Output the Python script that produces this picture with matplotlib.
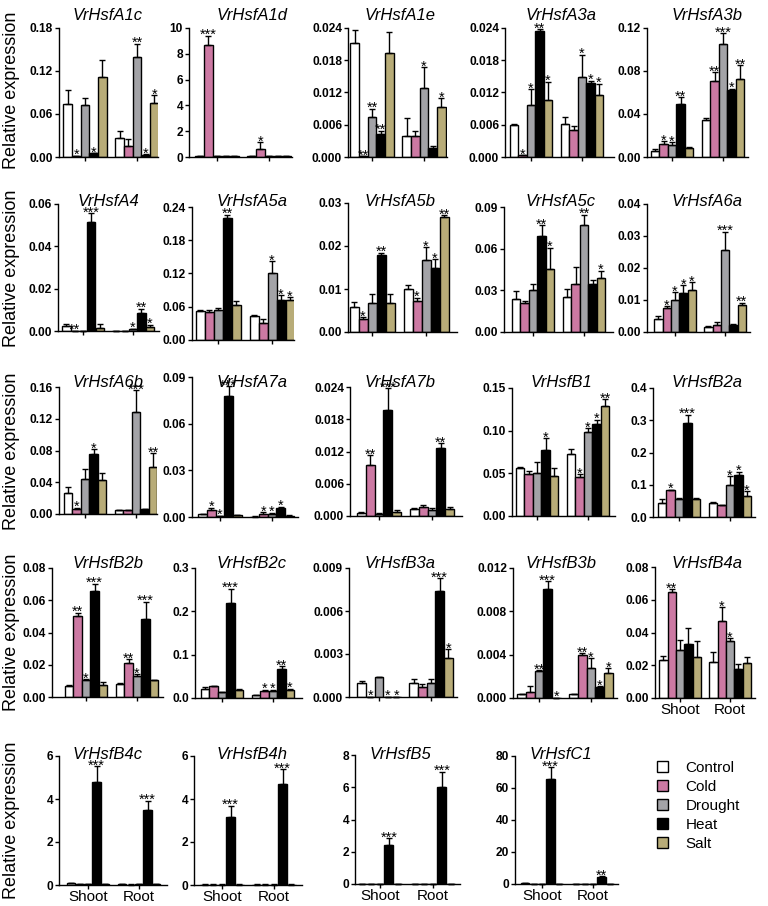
import matplotlib
matplotlib.use('Agg')
import matplotlib.pyplot as plt
from matplotlib.patches import Patch
import numpy as np

plt.rcParams['font.family'] = ['Liberation Sans', 'DejaVu Sans']

# ---------------- data ----------------
conditions = ['Control', 'Cold', 'Drought', 'Heat', 'Salt']
tissues = ['Shoot', 'Root']
colors = ['#FFFFFF', '#CC79A3', '#A3A3A7', '#000000', '#B8AC78']

genes = ['VrHsfA1c', 'VrHsfA1d', 'VrHsfA1e', 'VrHsfA3a', 'VrHsfA3b',
         'VrHsfA4', 'VrHsfA5a', 'VrHsfA5b', 'VrHsfA5c', 'VrHsfA6a',
         'VrHsfA6b', 'VrHsfA7a', 'VrHsfA7b', 'VrHsfB1', 'VrHsfB2a',
         'VrHsfB2b', 'VrHsfB2c', 'VrHsfB3a', 'VrHsfB3b', 'VrHsfB4a',
         'VrHsfB4c', 'VrHsfB4h', 'VrHsfB5', 'VrHsfC1']

yticklabels = [
    ['0.00', '0.06', '0.12', '0.18'],
    ['0', '2', '4', '6', '8', '10'],
    ['0.000', '0.006', '0.012', '0.018', '0.024'],
    ['0.000', '0.006', '0.012', '0.018', '0.024'],
    ['0.00', '0.04', '0.08', '0.12'],
    ['0.00', '0.02', '0.04', '0.06'],
    ['0.00', '0.06', '0.12', '0.18', '0.24'],
    ['0.00', '0.01', '0.02', '0.03'],
    ['0.00', '0.03', '0.06', '0.09'],
    ['0.00', '0.01', '0.02', '0.03', '0.04'],
    ['0.00', '0.04', '0.08', '0.12', '0.16'],
    ['0.00', '0.03', '0.06', '0.09'],
    ['0.000', '0.006', '0.012', '0.018', '0.024'],
    ['0.00', '0.05', '0.10', '0.15'],
    ['0.0', '0.1', '0.2', '0.3', '0.4'],
    ['0.00', '0.02', '0.04', '0.06', '0.08'],
    ['0.0', '0.1', '0.2', '0.3'],
    ['0.000', '0.003', '0.006', '0.009'],
    ['0.000', '0.004', '0.008', '0.012'],
    ['0.00', '0.02', '0.04', '0.06', '0.08'],
    ['0', '2', '4', '6'],
    ['0', '2', '4', '6'],
    ['0', '2', '4', '6', '8'],
    ['0', '20', '40', '60', '80'],
]

# order in each list: Control, Cold, Drought, Heat, Salt
shoot_mean = [
    [0.074, 0.001, 0.072, 0.005, 0.112],
    [0.05, 8.65, 0.06, 0.05, 0.05],
    [0.0212, 0.0001, 0.0074, 0.0042, 0.0193],
    [0.0059, 0.0003, 0.0096, 0.0235, 0.0106],
    [0.0056, 0.0125, 0.011, 0.0495, 0.0088],
    [0.0025, 0.0002, 0.0002, 0.0513, 0.0016],
    [0.052, 0.05, 0.055, 0.22, 0.064],
    [0.0057, 0.0031, 0.0067, 0.0178, 0.0067],
    [0.0241, 0.021, 0.0302, 0.0688, 0.0454],
    [0.004, 0.0076, 0.0101, 0.0122, 0.013],
    [0.0261, 0.0067, 0.0442, 0.0754, 0.043],
    [0.0017, 0.0043, 0.0006, 0.078, 0.0013],
    [0.0006, 0.0095, 0.0004, 0.0198, 0.0008],
    [0.0565, 0.0487, 0.0499, 0.0774, 0.0467],
    [0.042, 0.083, 0.057, 0.291, 0.057],
    [0.0069, 0.0505, 0.0104, 0.0659, 0.0073],
    [0.0208, 0.0269, 0.0138, 0.219, 0.0192],
    [0.00097, 0.00002, 0.00139, 0.00002, 0.00002],
    [0.00037, 0.00055, 0.00252, 0.0101, 0.00002],
    [0.0231, 0.0649, 0.0293, 0.0327, 0.0248],
    [0.08, 0.03, 0.03, 4.77, 0.05],
    [0.02, 0.02, 0.02, 3.15, 0.02],
    [0.01, 0.01, 0.01, 2.4, 0.01],
    [0.8, 0.2, 0.2, 65.9, 0.2],
]
shoot_err = [
    [0.019, 0.0005, 0.01, 0.0005, 0.024],
    [0.01, 0.75, 0.01, 0.01, 0.01],
    [0.0025, 0.0, 0.0016, 0.0007, 0.004],
    [0.0002, 0.0, 0.003, 0.0003, 0.0034],
    [0.0016, 0.002, 0.003, 0.006, 0.0006],
    [0.0008, 0.0, 0.0, 0.0044, 0.0016],
    [0.002, 0.005, 0.002, 0.006, 0.006],
    [0.0013, 0.0004, 0.0022, 0.0006, 0.0022],
    [0.0053, 0.0012, 0.0043, 0.008, 0.0154],
    [0.0009, 0.0004, 0.0024, 0.0024, 0.0025],
    [0.0084, 0.0013, 0.0126, 0.0063, 0.0084],
    [0.0005, 0.0017, 0.0002, 0.006, 0.0002],
    [0.0002, 0.0018, 0.0001, 0.004, 0.0003],
    [0.0012, 0.0043, 0.0137, 0.0137, 0.009],
    [0.013, 0.002, 0.003, 0.026, 0.002],
    [0.0005, 0.0019, 0.0006, 0.0043, 0.002],
    [0.0046, 0.001, 0.0005, 0.033, 0.0005],
    [0.00017, 0.0, 0.00002, 0.0, 0.0],
    [0.00003, 0.0006, 0.00002, 0.0007, 0.0],
    [0.0025, 0.0016, 0.0061, 0.01, 0.01],
    [0.02, 0.01, 0.01, 0.75, 0.01],
    [0.01, 0.01, 0.01, 0.53, 0.01],
    [0.005, 0.005, 0.005, 0.45, 0.005],
    [0.1, 0.05, 0.05, 7.2, 0.05],
]
shoot_sig = [
    ['', '*', '', '*', ''],
    ['', '***', '', '', ''],
    ['', '**', '**', '**', ''],
    ['', '*', '*', '**', '*'],
    ['', '*', '*', '**', ''],
    ['', '**', '', '***', ''],
    ['', '', '', '**', ''],
    ['', '*', '', '**', ''],
    ['', '', '', '**', '*'],
    ['', '*', '*', '*', '*'],
    ['', '*', '', '*', ''],
    ['', '*', '*', '***', ''],
    ['', '**', '', '***', ''],
    ['', '', '', '*', ''],
    ['', '*', '', '***', ''],
    ['', '**', '*', '***', ''],
    ['', '', '', '***', ''],
    ['', '*', '', '*', '*'],
    ['', '', '**', '***', '*'],
    ['', '**', '', '', ''],
    ['', '', '', '***', ''],
    ['', '', '', '***', ''],
    ['', '', '', '***', ''],
    ['', '', '', '***', ''],
]
root_mean = [
    [0.027, 0.0155, 0.14, 0.003, 0.075],
    [0.08, 0.6, 0.05, 0.05, 0.05],
    [0.0039, 0.0039, 0.0129, 0.0017, 0.0093],
    [0.0061, 0.005, 0.0148, 0.0138, 0.0116],
    [0.0345, 0.0711, 0.105, 0.0627, 0.0727],
    [0.0001, 0.0002, 0.0008, 0.0085, 0.0019],
    [0.043, 0.03, 0.12, 0.073, 0.072],
    [0.0099, 0.0072, 0.0167, 0.0148, 0.0267],
    [0.0253, 0.0345, 0.0767, 0.0345, 0.0391],
    [0.0016, 0.0021, 0.0256, 0.0021, 0.0084],
    [0.005, 0.0046, 0.1284, 0.0059, 0.059],
    [0.0003, 0.002, 0.002, 0.0058, 0.0008],
    [0.0013, 0.0017, 0.0012, 0.0127, 0.0013],
    [0.0723, 0.0459, 0.0982, 0.1076, 0.1284],
    [0.0436, 0.0364, 0.0987, 0.13, 0.0655],
    [0.0081, 0.0208, 0.0131, 0.0482, 0.0104],
    [0.006, 0.0154, 0.0169, 0.0677, 0.019],
    [0.001, 0.0007, 0.001, 0.0074, 0.0027],
    [0.00037, 0.00394, 0.00277, 0.00098, 0.00231],
    [0.0221, 0.0473, 0.0348, 0.018, 0.0215],
    [0.03, 0.02, 0.03, 3.49, 0.03],
    [0.02, 0.02, 0.02, 4.72, 0.02],
    [0.01, 0.01, 0.01, 6.03, 0.01],
    [0.1, 0.1, 0.1, 4.57, 0.1],
]
root_err = [
    [0.0095, 0.009, 0.018, 0.0005, 0.011],
    [0.01, 0.55, 0.01, 0.01, 0.01],
    [0.0033, 0.001, 0.0038, 0.0004, 0.0016],
    [0.0014, 0.0007, 0.0042, 0.0004, 0.002],
    [0.0015, 0.008, 0.01, 0.001, 0.0125],
    [0.0, 0.0, 0.0002, 0.002, 0.001],
    [0.002, 0.008, 0.022, 0.008, 0.005],
    [0.001, 0.0008, 0.003, 0.0021, 0.0005],
    [0.0056, 0.0125, 0.0078, 0.003, 0.005],
    [0.0003, 0.001, 0.0057, 0.0003, 0.0008],
    [0.0005, 0.0004, 0.0274, 0.0005, 0.0176],
    [0.0001, 0.001, 0.0008, 0.0008, 0.0002],
    [0.0002, 0.0004, 0.0002, 0.0008, 0.0003],
    [0.006, 0.0028, 0.0047, 0.005, 0.0086],
    [0.002, 0.002, 0.028, 0.01, 0.0145],
    [0.0005, 0.0025, 0.001, 0.011, 0.0003],
    [0.0005, 0.004, 0.002, 0.0055, 0.002],
    [0.00023, 0.00023, 0.00028, 0.0009, 0.00065],
    [0.00003, 0.0002, 0.0009, 0.0001, 0.00046],
    [0.0061, 0.0082, 0.0016, 0.003, 0.0033],
    [0.01, 0.01, 0.01, 0.43, 0.01],
    [0.01, 0.01, 0.01, 0.66, 0.01],
    [0.005, 0.005, 0.005, 0.93, 0.005],
    [0.05, 0.05, 0.05, 0.4, 0.05],
]
root_sig = [
    ['', '', '**', '*', '*'],
    ['', '*', '', '', ''],
    ['', '', '*', '', '*'],
    ['', '', '*', '*', '*'],
    ['', '**', '***', '*', '**'],
    ['', '', '*', '**', '*'],
    ['', '', '*', '*', '*'],
    ['', '*', '*', '*', '**'],
    ['', '', '**', '', '*'],
    ['', '', '***', '', '**'],
    ['', '', '***', '', '**'],
    ['', '*', '*', '*', ''],
    ['', '', '', '**', ''],
    ['', '*', '*', '*', '**'],
    ['', '', '*', '*', '*'],
    ['', '**', '*', '***', ''],
    ['', '*', '*', '**', '*'],
    ['', '', '', '***', '*'],
    ['', '**', '*', '*', '*'],
    ['', '*', '*', '', ''],
    ['', '', '', '***', ''],
    ['', '', '', '***', ''],
    ['', '', '', '***', ''],
    ['', '', '', '**', ''],
]
labelled_genes = ['VrHsfB4a', 'VrHsfB4c', 'VrHsfB4h', 'VrHsfB5', 'VrHsfC1']

# ---------------- layout (pixels) ----------------
W, H = 768, 906
# (left spine x, right end x, top y, baseline y, shoot tick x, root tick x)
panel_px = [
    (59, 158, 28, 157, 85, 137), (189, 292, 28, 157, 217, 269),
    (348, 447, 28, 157, 372, 424), (505, 614, 28, 157, 531, 582),
    (647, 748, 28, 157, 672, 723),
    (58, 159, 204, 331, 83, 133), (192, 294, 207, 340, 218, 272),
    (348, 457, 203, 332, 372, 426), (504, 613, 207, 332, 533, 584),
    (647, 750, 204, 332, 675, 725),
    (59, 157, 387, 514, 85, 136), (192, 298, 377, 517, 220, 272),
    (350, 462, 387, 516, 379, 432), (512, 615, 388, 516, 537, 588),
    (653, 755, 388, 517, 679, 730),
    (52, 163, 568, 697, 86, 137), (195, 302, 568, 698, 222, 273),
    (349, 457, 568, 697, 379, 431), (513, 617, 568, 698, 539, 591),
    (655, 755, 567, 698, 680, 730),
    (59, 167, 756, 885, 88, 139), (194, 302, 756, 885, 222, 274),
    (355, 460, 755, 884, 380, 433), (515, 618, 756, 884, 542, 593),
]
title_x = [108, 252, 400, 561, 707]
title_base = [20, 206, 387, 568, 759]
ylabel_y = [90, 268, 451, 632, 820]

fig = plt.figure(figsize=(W / 100, H / 100), dpi=100)

for i, gene in enumerate(genes):
    L, R, T, B, c1, c2 = panel_px[i]
    ax = fig.add_axes([L / W, 1 - B / H, (R - L) / W, (B - T) / H])
    u = (c2 - c1) / 6.0
    ax.set_xlim(2 - (c1 - L) / u, 8 + (R - c2) / u)
    ticks = [float(t) for t in yticklabels[i]]
    ax.set_ylim(0, ticks[-1])
    ax.set_yticks(ticks)
    ax.set_yticklabels(yticklabels[i], fontsize=8.6, fontweight='bold')

    for g, (means, errs, sigs) in enumerate([(shoot_mean[i], shoot_err[i], shoot_sig[i]),
                                             (root_mean[i], root_err[i], root_sig[i])]):
        xs = np.arange(5) + 6 * g
        ax.bar(xs, means, width=1.0, color=colors, edgecolor='black',
               linewidth=1.0, zorder=2)
        ax.errorbar(xs, means, yerr=[np.zeros(5), errs], fmt='none',
                    ecolor='black', elinewidth=1.0, capsize=2.4, capthick=1.0,
                    clip_on=False, zorder=3)
        for x, m, e, s in zip(xs, means, errs, sigs):
            if s:
                ax.annotate(s, xy=(x, m + e), xytext=(0, -2.4),
                            textcoords='offset points', ha='center',
                            va='baseline', fontsize=10.5,
                            annotation_clip=False, zorder=4)

    ax.set_xticks([2, 8])
    if gene in labelled_genes:
        ax.set_xticklabels(tissues, fontsize=11)
    else:
        ax.set_xticklabels(['', ''])
    for side in ['top', 'right']:
        ax.spines[side].set_visible(False)
    for side in ['left', 'bottom']:
        ax.spines[side].set_linewidth(1.0)
    ax.tick_params(axis='y', direction='out', length=2.8, width=1.0, pad=1.5)
    ax.tick_params(axis='x', direction='out', length=2.8, width=1.0, pad=1.0)

    row, col = divmod(i, 5)
    fig.text(title_x[col] / W, 1 - title_base[row] / H, gene, ha='center',
             va='baseline', fontsize=12, fontstyle='italic')

for yc in ylabel_y:
    fig.text(12 / W, 1 - yc / H, 'Relative expression', rotation=90,
             ha='center', va='center', fontsize=13)

handles = [Patch(facecolor=c, edgecolor='black', linewidth=1.0) for c in colors]
fig.legend(handles, conditions, loc='upper left',
           bbox_to_anchor=(657 / W, 1 - 761 / H), frameon=False, fontsize=11,
           handlelength=0.75, handleheight=0.75, handletextpad=1.1,
           labelspacing=0.32, borderpad=0, borderaxespad=0)

fig.savefig('out.png', dpi=100)
